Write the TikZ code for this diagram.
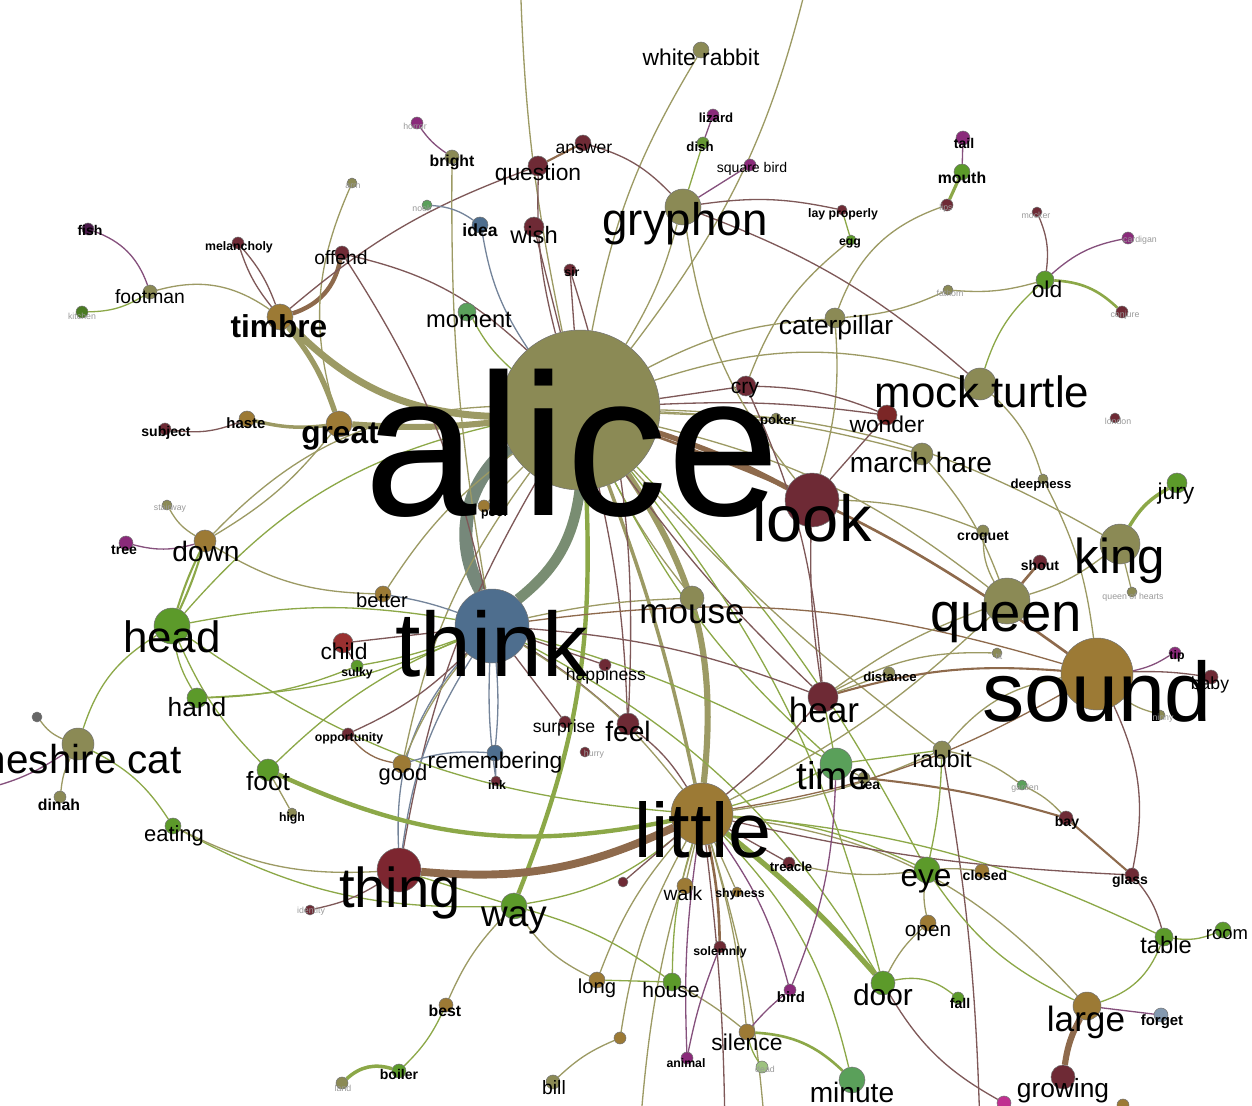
\documentclass[tikz,border=0pt]{standalone}
\usepackage{fontspec}
\setmainfont{Liberation Sans}
\usetikzlibrary{backgrounds}

\definecolor{olv}{HTML}{8B8A55}
\definecolor{och}{HTML}{9C7A35}
\definecolor{drd}{HTML}{6E2A35}
\definecolor{rd}{HTML}{9A3030}
\definecolor{grn}{HTML}{5C9A2A}
\definecolor{mgr}{HTML}{5AA05A}
\definecolor{blg}{HTML}{4E6E8E}
\definecolor{prp}{HTML}{8A2A7A}
\definecolor{dpr}{HTML}{4A1A4A}
\definecolor{pnk}{HTML}{C03090}
\definecolor{eol}{HTML}{9C9A64}
\definecolor{ebr}{HTML}{8E6A4C}
\definecolor{egr}{HTML}{8CA848}
\definecolor{erd}{HTML}{7E5858}
\definecolor{ebl}{HTML}{74849A}
\definecolor{band}{HTML}{76887A}

\newcommand{\fsz}[1]{\fontsize{#1}{#1}\selectfont}

\begin{document}
\begin{tikzpicture}[x=0.02cm, y=-0.02cm,
    dot/.style={circle, draw=black!55, line width=0.3pt, inner sep=0pt, minimum size={0.04cm*#1}},
    word/.style={inner sep=0pt, text=black, font=\fsz{#1}},
    wbold/.style={inner sep=0pt, text=black, font=\fsz{#1}\bfseries},
    wgray/.style={inner sep=0pt, text=black!40, font=\fsz{5}},
    eo/.style={draw=eol, line width=0.75pt},
    eb/.style={draw=ebr, line width=0.75pt},
    eg/.style={draw=egr, line width=0.75pt},
    er/.style={draw=erd, line width=0.75pt},
    el/.style={draw=ebl, line width=0.75pt},
    ep/.style={draw=prp!55!gray, line width=0.75pt}]
    \useasboundingbox (0,0) rectangle (1252,1106);

    % word circles
    \node[dot=80, fill=olv] (alice) at (580,410) {};
    \node[dot=37, fill=blg] (think) at (492,626) {};
    \node[dot=31, fill=och] (little) at (702,814) {};
    \node[dot=36, fill=och] (sound) at (1097,674) {};
    \node[dot=27, fill=drd] (look) at (812,500) {};
    \node[dot=23, fill=olv] (queen) at (1007,601) {};
    \node[dot=20, fill=olv] (king) at (1120,544) {};
    \node[dot=16, fill=olv] (mockturtle) at (980,384) {};
    \node[dot=18, fill=olv] (gryphon) at (683,207) {};
    \node[dot=18, fill=grn] (head) at (172,626) {};
    \node[dot=16, fill=olv] (cheshire) at (78,744) {};
    \node[dot=22, fill=drd!90!red] (thing) at (399,870) {};
    \node[dot=15, fill=drd] (hear) at (823,697) {};
    \node[dot=16, fill=mgr] (time) at (836,764) {};
    \node[dot=13, fill=grn] (eye) at (927,870) {};
    \node[dot=12, fill=grn] (door) at (883,983) {};
    \node[dot=14, fill=och] (large) at (1087,1006) {};
    \node[dot=12, fill=drd] (growing) at (1063,1077) {};
    \node[dot=13, fill=mgr] (minute) at (852,1080) {};
    \node[dot=8, fill=och] (silence) at (747,1032) {};
    \node[dot=9, fill=grn] (table) at (1164,937) {};
    \node[dot=8, fill=grn] (room) at (1223,930) {};
    \node[dot=7, fill=blg!70] (forget) at (1161,1015) {};
    \node[dot=9, fill=olv] (rabbit) at (942,750) {};
    \node[dot=6, fill=olv] (distance) at (889,673) {};
    \node[dot=6, fill=olv] (tea) at (864,778) {};
    \node[dot=7, fill=drd] (bay) at (1066,818) {};
    \node[dot=7, fill=drd] (glass) at (1132,875) {};
    \node[dot=7, fill=och] (closed) at (982,871) {};
    \node[dot=8, fill=och] (open) at (928,923) {};
    \node[dot=6, fill=grn] (fall) at (958,998) {};
    \node[dot=6, fill=prp] (bird) at (790,990) {};
    \node[dot=6, fill=prp] (animal) at (687,1058) {};
    \node[dot=6, fill=grn!60] (dead) at (762,1067) {};
    \node[dot=9, fill=grn] (house) at (672,982) {};
    \node[dot=8, fill=och] (long) at (597,980) {};
    \node[dot=7, fill=olv] (bill) at (553,1082) {};
    \node[dot=7, fill=och] (best) at (446,1005) {};
    \node[dot=7, fill=grn] (boiler) at (399,1071) {};
    \node[dot=6, fill=olv] (land) at (342,1083) {};
    \node[dot=13, fill=grn] (way) at (514,906) {};
    \node[dot=8, fill=och] (walk) at (685,886) {};
    \node[dot=5, fill=och] (shyness) at (737,892) {};
    \node[dot=6, fill=drd] (solemnly) at (720,947) {};
    \node[dot=6, fill=drd] (treacle) at (789,863) {};
    \node[dot=6, fill=drd] (surprise) at (565,722) {};
    \node[dot=11, fill=drd] (feel) at (628,724) {};
    \node[dot=6, fill=drd] (happiness) at (605,665) {};
    \node[dot=5, fill=drd] (hurry) at (585,752) {};
    \node[dot=5, fill=drd] (ink) at (496,781) {};
    \node[dot=8, fill=blg] (remembering) at (495,753) {};
    \node[dot=9, fill=och] (good) at (402,764) {};
    \node[dot=6, fill=drd] (opportunity) at (348,734) {};
    \node[dot=10, fill=rd] (child) at (343,643) {};
    \node[dot=6, fill=grn] (sulky) at (357,666) {};
    \node[dot=8, fill=och] (better) at (383,594) {};
    \node[dot=12, fill=olv] (mouse) at (692,598) {};
    \node[dot=10, fill=grn] (hand) at (197,698) {};
    \node[dot=11, fill=grn] (foot) at (268,770) {};
    \node[dot=5, fill=olv] (high) at (292,813) {};
    \node[dot=6, fill=olv] (dinah) at (60,797) {};
    \node[dot=8, fill=grn] (eating) at (173,826) {};
    \node[dot=5, fill=black!60] (grin) at (37,717) {};
    \node[dot=11, fill=och] (down) at (205,541) {};
    \node[dot=7, fill=prp] (tree) at (126,543) {};
    \node[dot=5, fill=olv] (stairway) at (167,505) {};
    \node[dot=13, fill=och] (great) at (339,424) {};
    \node[dot=8, fill=och] (haste) at (247,419) {};
    \node[dot=6, fill=drd] (subject) at (165,429) {};
    \node[dot=13, fill=och] (timbre) at (280,317) {};
    \node[dot=6, fill=drd] (melancholy) at (238,243) {};
    \node[dot=7, fill=drd] (offend) at (342,253) {};
    \node[dot=7, fill=olv] (footman) at (150,292) {};
    \node[dot=6, fill=dpr] (fish) at (88,229) {};
    \node[dot=6, fill=grn!80!black] (kitchen) at (82,312) {};
    \node[dot=5, fill=olv] (arm) at (352,183) {};
    \node[dot=9, fill=mgr] (moment) at (467,312) {};
    \node[dot=8, fill=blg] (idea) at (480,225) {};
    \node[dot=10, fill=drd] (wish) at (534,227) {};
    \node[dot=10, fill=drd] (question) at (538,166) {};
    \node[dot=8, fill=drd] (answer) at (583,143) {};
    \node[dot=7, fill=olv] (bright) at (452,157) {};
    \node[dot=6, fill=prp] (horror) at (417,123) {};
    \node[dot=5, fill=mgr] (nook) at (427,205) {};
    \node[dot=6, fill=drd] (sir) at (570,270) {};
    \node[dot=6, fill=prp] (lizard) at (713,115) {};
    \node[dot=6, fill=grn!80!olv] (dish) at (703,143) {};
    \node[dot=6, fill=prp] (squarebird) at (750,165) {};
    \node[dot=8, fill=olv] (whiterabbit) at (701,50) {};
    \node[dot=5, fill=drd] (lay) at (842,210) {};
    \node[dot=5, fill=grn] (egg) at (851,240) {};
    \node[dot=10, fill=olv] (caterpillar) at (835,318) {};
    \node[dot=10, fill=drd] (cry) at (746,386) {};
    \node[dot=5, fill=olv] (poker) at (776,418) {};
    \node[dot=10, fill=rd!80!black] (wonder) at (887,415) {};
    \node[dot=11, fill=olv] (marchhare) at (922,454) {};
    \node[dot=5, fill=olv] (deepness) at (1043,479) {};
    \node[dot=6, fill=olv] (croquet) at (983,531) {};
    \node[dot=7, fill=drd] (shout) at (1040,562) {};
    \node[dot=10, fill=grn] (jury) at (1177,483) {};
    \node[dot=5, fill=olv] (hearts) at (1132,592) {};
    \node[dot=8, fill=grn] (mouth) at (962,172) {};
    \node[dot=7, fill=prp] (tail) at (963,138) {};
    \node[dot=6, fill=drd] (lips) at (947,205) {};
    \node[dot=5, fill=drd] (mocker) at (1037,212) {};
    \node[dot=6, fill=prp] (cardigan) at (1128,238) {};
    \node[dot=9, fill=grn] (old) at (1045,280) {};
    \node[dot=6, fill=drd] (conjure) at (1122,312) {};
    \node[dot=5, fill=olv] (fathom) at (948,290) {};
    \node[dot=5, fill=drd] (london) at (1115,418) {};
    \node[dot=6, fill=prp] (tip) at (1175,653) {};
    \node[dot=7, fill=drd] (baby) at (1211,677) {};
    \node[dot=5, fill=olv] (tit) at (997,653) {};
    \node[dot=5, fill=olv] (ninny) at (1160,715) {};
    \node[dot=5, fill=drd] (identity) at (310,910) {};
    \node[dot=5, fill=drd] (crumb) at (623,882) {};
    \node[dot=6, fill=och] (spoon) at (620,1038) {};
    \node[dot=7, fill=pnk] (pig) at (1004,1103) {};
    \node[dot=6, fill=och] (edge) at (1123,1105) {};
    \node[dot=5, fill=mgr] (garden) at (1022,785) {};
    \node[dot=6, fill=och] (pool) at (484,506) {};
    \coordinate (northA) at (810,-30);
    \coordinate (northB) at (520,-30);
    \coordinate (westA) at (-20,790);
    \coordinate (southA) at (640,1130);
    \coordinate (southB) at (725,1130);
    \coordinate (southC) at (765,1130);
    \coordinate (southD) at (980,1130);

    % connectors
    \begin{pgfonlayer}{background}
    \draw[draw=band, line width=7.5pt] (alice) to[bend right=40] (think);
    \draw[draw=band!85!egr, line width=6pt] (alice) to[bend left=22] (think);
    \draw[eo, line width=4pt] (timbre) to[bend right=22] (alice);
    \draw[eo, line width=3pt] (timbre) to[bend left=10] (great);
    \draw[eo, line width=3.5pt] (great) to[bend right=5] (alice);
    \draw[eo, line width=3.5pt] (alice) to[bend left=20] (little);
    \draw[eo, line width=2pt] (alice) to[bend left=4] (little);
    \draw[eg, line width=2.5pt] (alice) to[bend left=12] (way);
    \draw[eb, line width=3pt] (alice) to[bend left=5] (look);
    \draw[eb, line width=1.5pt] (alice) to[bend left=8] (sound);
    \draw[eo] (alice) to[bend left=10] (whiterabbit);
    \draw[eo] (alice) to[bend right=12] (northA);
    \draw[eo] (alice) to[bend left=5] (northB);
    \draw[eo] (alice) to[bend right=8] (gryphon);
    \draw[er] (alice) to[bend left=8] (question);
    \draw[er] (alice) to (wish);
    \draw[el] (alice) to[bend left=12] (idea);
    \draw[eg] (alice) to[bend left=10] (moment);
    \draw[er] (alice) to (sir);
    \draw[er] (alice) to[bend right=15] (offend);
    \draw[eo] (alice) to[bend left=12] (caterpillar);
    \draw[eo] (alice) to[bend left=18] (mockturtle);
    \draw[eo] (alice) to[bend left=6] (marchhare);
    \draw[er] (alice) to (cry);
    \draw[er] (alice) to[bend left=5] (wonder);
    \draw[eo] (alice) to[bend left=12] (queen);
    \draw[eo] (alice) to[bend left=14] (king);
    \draw[eo] (alice) to[bend right=5] (mouse);
    \draw[er] (alice) to[bend right=10] (thing);
    \draw[eg] (alice) to[bend right=18] (head);
    \draw[eo] (alice) to[bend right=22] (down);
    \draw[er] (alice) to[bend right=5] (hear);
    \draw[eg] (alice) to[bend right=10] (time);
    \draw[er] (alice) to[bend left=5] (feel);
    \draw[eg] (alice) to[bend left=8] (eye);
    \draw[eg] (alice) to[bend left=12] (door);
    \draw[eo] (alice) to[bend right=5] (rabbit);
    \draw[eo] (alice) to[bend right=12] (good);
    \draw[eo] (alice) to[bend right=10] (better);
    \draw[eo] (alice) to (poker);
    \draw[eo] (alice) to (pool);

    \draw[el] (think) to[bend right=5] (better);
    \draw[er] (think) to (child);
    \draw[eg] (think) to[bend left=5] (sulky);
    \draw[eg] (think) to[bend left=10] (hand);
    \draw[el] (think) to[bend left=5] (remembering);
    \draw[el] (think) to[bend right=12] (thing);
    \draw[el] (think) to[bend right=22] (thing);
    \draw[er] (think) to (happiness);
    \draw[er] (think) to[bend left=5] (feel);
    \draw[eo] (think) to[bend left=10] (little);
    \draw[er] (think) to[bend left=8] (hear);
    \draw[eb] (think) to[bend left=12] (sound);
    \draw[eg] (think) to[bend right=10] (head);
    \draw[eo] (think) to[bend right=8] (good);
    \draw[er] (think) to[bend left=10] (opportunity);
    \draw[er] (think) to (surprise);
    \draw[el] (think) to[bend right=5] (ink);
    \draw[eo] (think) to[bend left=5] (mouse);
    \draw[eg] (think) to[bend right=10] (foot);
    \draw[eg] (think) to[bend left=6] (time);
    \draw[eg] (think) to[bend left=15] (door);

    \draw[eb, line width=4.5pt] (thing) to[bend right=15] (little);
    \draw[eg, line width=3pt] (little) to[bend left=5] (door);
    \draw[eg, line width=2.5pt] (foot) to[bend right=18] (little);
    \draw[eg] (little) to[bend left=15] (way);
    \draw[eo] (little) to (walk);
    \draw[eo] (little) to (shyness);
    \draw[eb, line width=1.5pt] (little) to[bend left=5] (solemnly);
    \draw[eg] (little) to[bend right=8] (house);
    \draw[eo] (little) to[bend right=10] (long);
    \draw[eo] (little) to[bend left=5] (silence);
    \draw[ep] (little) to[bend left=10] (bird);
    \draw[eg] (little) to[bend left=10] (eye);
    \draw[er] (little) to (treacle);
    \draw[eg] (little) to[bend right=5] (time);
    \draw[er] (little) to[bend right=5] (hear);
    \draw[er] (little) to[bend right=10] (feel);
    \draw[eo] (little) to[bend left=20] (large);
    \draw[eg] (little) to[bend left=10] (table);
    \draw[eo] (little) to[bend right=8] (rabbit);
    \draw[eg] (little) to[bend left=15] (head);
    \draw[ep] (little) to[bend right=5] (animal);
    \draw[eo] (little) to[bend right=8] (queen);
    \draw[eb] (little) to[bend right=10] (sound);
    \draw[er] (little) to[bend right=5] (glass);
    \draw[eg] (little) to[bend left=15] (minute);
    \draw[er] (little) to (crumb);
    \draw[eo] (little) to[bend right=10] (spoon);
    \draw[eo] (spoon) to[bend right=10] (bill);
    \draw[eo] (little) to[bend right=6] (southA);
    \draw[er] (little) to[bend left=3] (southB);
    \draw[eo] (little) to[bend left=6] (southC);
    \draw[er] (rabbit) to[bend left=4] (southD);

    \draw[ep] (fish) to[bend left=25] (footman);
    \draw[eg] (footman) to[bend left=15] (kitchen);
    \draw[eo] (footman) to[bend left=25] (timbre);
    \draw[er] (melancholy) to[bend left=10] (timbre);
    \draw[er] (melancholy) to[bend right=10] (timbre);
    \draw[eb, line width=2.5pt] (offend) to[bend left=30] (timbre);
    \draw[eo] (arm) to[bend right=20] (great);
    \draw[er] (subject) to[bend right=15] (haste);
    \draw[eo, line width=2pt] (haste) to[bend right=10] (great);
    \draw[eo] (great) to[bend left=10] (down);
    \draw[eg, line width=1.2pt] (down) to[bend left=4] (head);
    \draw[eg, line width=1.2pt] (down) to[bend right=4] (head);
    \draw[ep] (tree) to[bend right=15] (down);
    \draw[eo] (stairway) to[bend right=15] (down);
    \draw[eo] (down) to[bend right=15] (better);
    \draw[eg] (head) to[bend right=20] (cheshire);
    \draw[eg] (head) to[bend right=10] (hand);
    \draw[eg] (head) to[bend right=10] (foot);
    \draw[eg] (hand) to[bend right=10] (sulky);
    \draw[er] (sulky) to (child);
    \draw[eo] (cheshire) to[bend left=15] (grin);
    \draw[eo] (cheshire) to[bend right=10] (dinah);
    \draw[eg] (cheshire) to[bend left=15] (eating);
    \draw[ep] (cheshire) to[bend left=10] (westA);
    \draw[eg] (eating) to[bend right=15] (way);
    \draw[eo] (foot) to (high);
    \draw[eb] (opportunity) to[bend right=20] (good);
    \draw[el] (good) to[bend left=10] (remembering);
    \draw[el] (remembering) to (ink);
    \draw[er] (thing) to[bend left=10] (identity);
    \draw[eo] (thing) to[bend left=15] (eating);
    \draw[eg] (thing) to (way);
    \draw[eo] (way) to[bend right=15] (long);
    \draw[eo] (way) to[bend right=10] (best);
    \draw[eg] (best) to[bend left=10] (boiler);
    \draw[eg, line width=2pt] (boiler) to[bend right=30] (land);
    \draw[eg] (way) to[bend left=10] (house);
    \draw[eg] (long) to (house);
    \draw[eo] (house) to[bend left=5] (silence);
    \draw[eg, line width=1.5pt] (silence) to[bend left=20] (minute);
    \draw[eg] (silence) to[bend right=10] (dead);
    \draw[ep] (silence) to[bend left=5] (bird);
    \draw[ep] (animal) to[bend left=5] (solemnly);
    \draw[ep] (bird) to[bend right=10] (time);
    \draw[eo] (door) to[bend left=10] (open);
    \draw[eo] (open) to[bend left=10] (eye);
    \draw[eo] (eye) to[bend left=5] (closed);
    \draw[eg] (door) to[bend left=25] (fall);
    \draw[er] (door) to[bend right=15] (pig);
    \draw[eg] (eye) to[bend right=15] (large);
    \draw[eo] (eye) to[bend left=10] (treacle);
    \draw[ep] (large) to (forget);
    \draw[eb, line width=3.5pt] (large) to[bend right=10] (growing);
    \draw[eg] (table) to[bend left=25] (large);
    \draw[eg] (table) to[bend right=15] (room);
    \draw[er] (glass) to[bend left=12] (table);
    \draw[eb, line width=1.2pt] (tea) to[bend left=5] (bay);
    \draw[eb, line width=1.2pt] (bay) to (glass);
    \draw[er] (sound) to[bend left=18] (glass);
    \draw[eo] (rabbit) to[bend left=12] (garden);
    \draw[eo] (garden) to[bend left=10] (bay);
    \draw[eg] (rabbit) to[bend left=5] (eye);
    \draw[eg] (rabbit) to (time);
    \draw[eo] (rabbit) to[bend left=20] (sound);
    \draw[ep] (sound) to[bend right=10] (tip);
    \draw[er] (sound) to[bend left=5] (baby);
    \draw[eo] (sound) to[bend right=10] (ninny);
    \draw[eb, line width=1.2pt] (hear) to[bend left=10] (sound);
    \draw[eo] (hear) to[bend left=8] (queen);
    \draw[eo] (hear) to (distance);
    \draw[eg] (hear) to (time);
    \draw[er] (hear) to[bend left=5] (look);
    \draw[eo] (hear) to[bend left=15] (tit);
    \draw[eo] (time) to (tea);
    \draw[eo] (queen) to[bend left=15] (croquet);
    \draw[eb, line width=1.5pt] (queen) to (shout);
    \draw[eo] (queen) to[bend right=10] (king);
    \draw[eo] (king) to (hearts);
    \draw[eg, line width=2pt] (king) to[bend left=15] (jury);
    \draw[eo] (mockturtle) to[bend left=15] (deepness);
    \draw[eo] (deepness) to[bend left=10] (sound);
    \draw[eg] (mockturtle) to[bend left=15] (old);
    \draw[er] (old) to[bend right=15] (mocker);
    \draw[ep] (old) to[bend left=15] (cardigan);
    \draw[eg, line width=1.5pt] (old) to[bend left=20] (conjure);
    \draw[eo] (old) to[bend left=10] (fathom);
    \draw[eo] (fathom) to[bend left=10] (caterpillar);
    \draw[eo] (caterpillar) to[bend left=25] (lips);
    \draw[eg, line width=1.8pt] (lips) to (mouth);
    \draw[ep] (mouth) to (tail);
    \draw[eo] (caterpillar) to[bend left=10] (look);
    \draw[eg] (lay) to (egg);
    \draw[eo] (egg) to[bend right=15] (cry);
    \draw[eg] (gryphon) to (dish);
    \draw[ep] (dish) to (lizard);
    \draw[ep] (gryphon) to (squarebird);
    \draw[er] (gryphon) to[bend left=10] (lay);
    \draw[eo] (gryphon) to[bend right=15] (look);
    \draw[er] (gryphon) to[bend right=15] (answer);
    \draw[eb, line width=1.2pt] (question) to (answer);
    \draw[er] (question) to[bend right=10] (timbre);
    \draw[ep] (bright) to[bend left=10] (horror);
    \draw[eo] (bright) to[bend right=5] (think);
    \draw[el] (idea) to[bend right=15] (nook);
    \draw[er] (mockturtle) to[bend right=10] (gryphon);
    \draw[er] (wonder) to (look);
    \draw[er] (wonder) to[bend right=10] (cry);
    \draw[er] (cry) to[bend left=10] (hear);
    \draw[eo] (marchhare) to[bend left=10] (queen);
    \draw[eo] (croquet) to[bend right=10] (look);
    \draw[er] (offend) to[bend left=10] (think);
    \draw[er] (sir) to[bend left=10] (feel);
    \end{pgfonlayer}

    % word labels
    \node[wbold=7] (poolT) at (494,513) {pool};
    \node[word=115] (aliceT) at (572,443) {alice};
    \node[word=52] (thinkT) at (492,644) {think};
    \node[word=44] (littleT) at (703,830) {little};
    \node[word=48] (soundT) at (1097,691) {sound};
    \node[word=37] (lookT) at (812,518) {look};
    \node[word=31] (queenT) at (1006,622) {queen};
    \node[word=28] (kingT) at (1120,561) {king};
    \node[word=25] (mockturtleT) at (982,392) {mock turtle};
    \node[word=26] (gryphonT) at (685,224) {gryphon};
    \node[word=25] (headT) at (172,637) {head};
    \node[word=23, anchor=east] (cheshireT) at (182,759) {cheshire cat};
    \node[word=32] (thingT) at (400,893) {thing};
    \node[word=20] (hearT) at (824,710) {hear};
    \node[word=22] (timeT) at (833,776) {time};
    \node[word=18] (eyeT) at (926,881) {eye};
    \node[word=17] (doorT) at (883,995) {door};
    \node[word=20] (largeT) at (1086,1022) {large};
    \node[word=15] (growingT) at (1063,1091) {growing};
    \node[word=16] (minuteT) at (852,1092) {minute};
    \node[word=13] (silenceT) at (747,1042) {silence};
    \node[word=13.5] (tableT) at (1166,945) {table};
    \node[word=10.5] (roomT) at (1227,935) {room};
    \node[wbold=8.5] (forgetT) at (1162,1022) {forget};
    \node[word=13.5] (rabbitT) at (942,759) {rabbit};
    \node[word=20] (mouseT) at (692,614) {mouse};
    \node[word=16] (feelT) at (628,731) {feel};
    \node[word=21] (wayT) at (514,920) {way};
    \node[word=10] (surpriseT) at (564,728) {surprise};
    \node[word=10] (happinessT) at (606,676) {happiness};
    \node[word=13] (rememberingT) at (495,763) {remembering};
    \node[word=12.5] (goodT) at (403,775) {good};
    \node[word=13] (childT) at (344,651) {child};
    \node[word=11.5] (betterT) at (382,600) {better};
    \node[word=15] (handT) at (197,707) {hand};
    \node[word=15] (footT) at (268,781) {foot};
    \node[word=12.5] (eatingT) at (174,836) {eating};
    \node[word=16] (downT) at (206,551) {down};
    \node[wbold=18] (greatT) at (340,437) {great};
    \node[wbold=18] (timbreT) at (279,326) {timbre};
    \node[word=13.5] (momentT) at (469,320) {moment};
    \node[word=13] (questionT) at (538,175) {question};
    \node[word=13.5] (wishT) at (534,235) {wish};
    \node[wbold=10] (ideaT) at (480,230) {idea};
    \node[word=10] (answerT) at (584,149) {answer};
    \node[word=13] (whiterabbitT) at (701,57) {white rabbit};
    \node[word=15] (caterpillarT) at (836,328) {caterpillar};
    \node[word=13] (wonderT) at (887,424) {wonder};
    \node[word=16] (marchhareT) at (921,462) {march hare};
    \node[word=12] (cryT) at (745,390) {cry};
    \node[word=13] (juryT) at (1176,494) {jury};
    \node[word=13] (oldT) at (1047,289) {old};
    \node[word=12] (houseT) at (671,990) {house};
    \node[word=11.5] (longT) at (597,988) {long};
    \node[word=11.8] (openT) at (928,933) {open};
    \node[word=11] (walkT) at (683,894) {walk};
    \node[word=11] (billT) at (554,1088) {bill};
    \node[wbold=9] (bestT) at (445,1011) {best};
    \node[wbold=9] (dinahT) at (59,805) {dinah};
    \node[word=11] (footmanT) at (150,297) {footman};
    \node[word=11] (offendT) at (341,258) {offend};
    \node[wbold=8.5] (hasteT) at (246,423) {haste};
    \node[wbold=8] (subjectT) at (166,433) {subject};
    \node[wbold=7] (melancholyT) at (239,247) {melancholy};
    \node[wbold=9] (brightT) at (452,162) {bright};
    \node[wbold=9] (mouthT) at (962,178) {mouth};
    \node[wbold=8] (croquetT) at (983,537) {croquet};
    \node[wbold=8] (shoutT) at (1040,565) {shout};
    \node[wbold=7.5] (deepnessT) at (1041,485) {deepness};
    \node[wbold=7.5] (pokerT) at (778,421) {poker};
    \node[wbold=8] (closedT) at (985,875) {closed};
    \node[wbold=8] (glassT) at (1130,881) {glass};
    \node[wbold=8] (bayT) at (1067,823) {bay};
    \node[wbold=7.5] (distanceT) at (890,677) {distance};
    \node[wbold=8] (teaT) at (870,785) {tea};
    \node[wbold=7.5] (treacleT) at (791,867) {treacle};
    \node[wbold=7] (shynessT) at (740,894) {shyness};
    \node[wbold=7] (solemnlyT) at (720,952) {solemnly};
    \node[wbold=8.5] (birdT) at (791,997) {bird};
    \node[wbold=8] (fallT) at (960,1003) {fall};
    \node[wbold=7] (animalT) at (686,1063) {animal};
    \node[wbold=8] (boilerT) at (399,1074) {boiler};
    \node[wbold=7] (tipT) at (1177,656) {tip};
    \node[word=10] (babyT) at (1210,685) {baby};
    \node[wbold=8] (treeT) at (124,550) {tree};
    \node[wbold=8] (fishT) at (90,230) {fish};
    \node[wbold=8] (tailT) at (964,143) {tail};
    \node[wbold=7.5] (lizardT) at (716,118) {lizard};
    \node[wbold=7.5] (dishT) at (700,147) {dish};
    \node[word=8] (squarebirdT) at (752,169) {square bird};
    \node[wbold=7] (layT) at (843,214) {lay properly};
    \node[wbold=7] (eggT) at (850,243) {egg};
    \node[wbold=7] (sirT) at (572,272) {sir};
    \node[wbold=7] (opportunityT) at (349,738) {opportunity};
    \node[wbold=7] (sulkyT) at (357,673) {sulky};
    \node[wbold=7] (highT) at (292,818) {high};
    \node[wbold=7] (inkT) at (497,785) {ink};
    \node[wgray] (kitchenT) at (82,316) {kitchen};
    \node[wgray] (horrorT) at (415,126) {horror};
    \node[wgray] (nookT) at (422,208) {nook};
    \node[wgray] (armT) at (353,186) {arm};
    \node[wgray] (stairwayT) at (170,508) {stairway};
    \node[wgray] (hurryT) at (594,754) {hurry};
    \node[wgray] (lipsT) at (946,208) {lips};
    \node[wgray] (mockerT) at (1036,215) {mocker};
    \node[wgray] (cardiganT) at (1140,240) {cardigan};
    \node[wgray] (fathomT) at (950,293) {fathom};
    \node[wgray] (conjureT) at (1125,315) {conjure};
    \node[wgray] (londonT) at (1118,421) {london};
    \node[wgray] (heartsT) at (1133,597) {queen of hearts};
    \node[wgray] (gardenT) at (1025,788) {garden};
    \node[wgray] (identityT) at (311,911) {identity};
    \node[wgray] (landT) at (343,1088) {land};
    \node[wgray] (deadT) at (765,1069) {dead};
    \node[wgray] (titT) at (999,656) {tit};
    \node[wgray] (ninnyT) at (1163,718) {ninny};
\end{tikzpicture}
\end{document}
